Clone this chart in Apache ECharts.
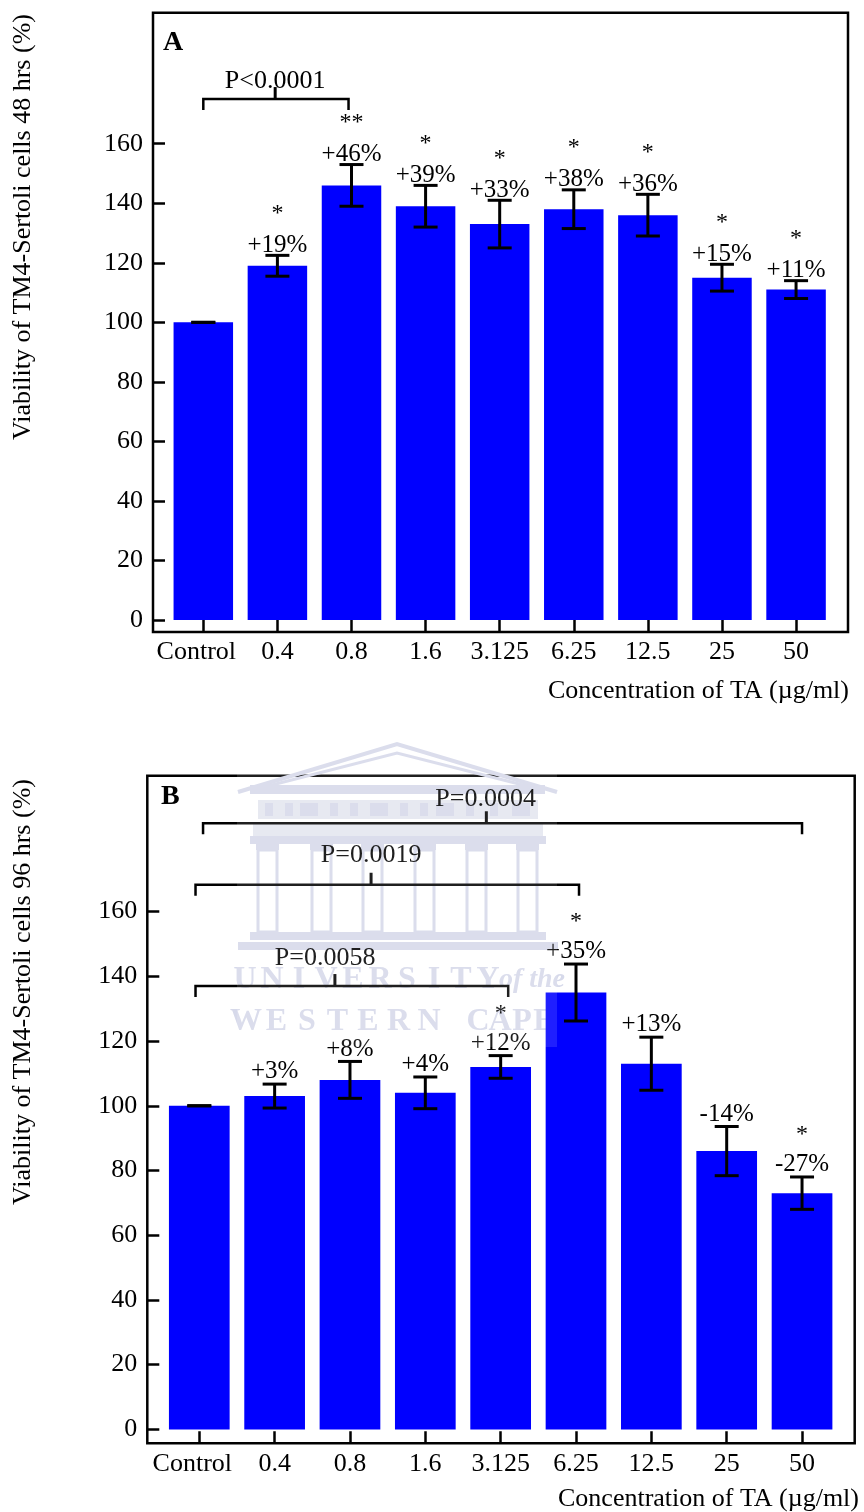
<!DOCTYPE html>
<html>
<head>
<meta charset="utf-8">
<script src="https://cdn.jsdelivr.net/npm/echarts@6/dist/echarts.min.js"></script>
<style>
  html, body { margin: 0; padding: 0; background: #ffffff; }
  #chart { width: 864px; height: 1512px; }
</style>
</head>
<body>
<div id="chart"></div>
<script>
// Concentrations of TA (µg/ml) on the x axis
const categories = ['Control', '0.4', '0.8', '1.6', '3.125', '6.25', '12.5', '25', '50'];
const categoryTicks = [0, 1, 2, 3, 4, 5, 6, 7, 8];
const yTicks = [0, 20, 40, 60, 80, 100, 120, 140, 160];

// Panel A: viability after 48 h (% of control)
const viability48 = [100, 119, 146, 139, 133, 138, 136, 115, 111];
const error48 = [0, 3.5, 7, 7, 8, 6.5, 7, 4.5, 3];
const change48 = ['', '+19%', '+46%', '+39%', '+33%', '+38%', '+36%', '+15%', '+11%'];
const stars48 = ['', '*', '**', '*', '*', '*', '*', '*', '*'];
// [from, to, level, tick x, text x, text level, label]
const brackets48 = [
  [0, 1.96, 175, 0.97, 0.97, 181, 'P<0.0001']
];

// Panel B: viability after 96 h (% of control)
const viability96 = [100, 103, 108, 104, 112, 135, 113, 86, 73];
const error96 = [0, 3.7, 5.7, 4.9, 3.5, 8.8, 8.2, 7.6, 5];
const change96 = ['', '+3%', '+8%', '+4%', '+12%', '+35%', '+13%', '-14%', '-27%'];
const stars96 = ['', '', '', '', '*', '*', '', '', '*'];
const brackets96 = [
  [0.05, 8.0, 187.3, 3.81, 3.80, 194.8, 'P=0.0004'],
  [-0.05, 5.04, 168.3, 2.28, 2.28, 177.4, 'P=0.0019'],
  [-0.05, 4.10, 137.0, 1.80, 1.67, 145.6, 'P=0.0058']
];

const FONT = '"Liberation Serif", "Times New Roman", Times, serif';
const BLUE = '#0000ff';

function textStyle(text, size, extra) {
  return Object.assign({
    text: text,
    fontSize: size,
    fontFamily: FONT,
    fill: '#000',
    align: 'center',
    verticalAlign: 'middle',
    textAlign: 'center',
    textVerticalAlign: 'middle'
  }, extra || {});
}

// Error bars with the change label and significance stars above each bar
function errorRenderer(labels, stars, labelGap, starGap) {
  return function (params, api) {
    const i = api.value(0), v = api.value(1), e = api.value(2);
    const hi = api.coord([i, v + e]);
    const lo = api.coord([i, v - e]);
    const x = hi[0], half = 12;
    const s = { stroke: '#000', lineWidth: 3 };
    const children = [
      { type: 'line', shape: { x1: x, y1: hi[1], x2: x, y2: lo[1] }, style: s },
      { type: 'line', shape: { x1: x - half, y1: hi[1], x2: x + half, y2: hi[1] }, style: s },
      { type: 'line', shape: { x1: x - half, y1: lo[1], x2: x + half, y2: lo[1] }, style: s }
    ];
    const k = params.dataIndex;
    if (labels[k]) {
      children.push({ type: 'text', x: x, y: hi[1] - labelGap, style: textStyle(labels[k], 25) });
    }
    if (stars[k]) {
      children.push({ type: 'text', x: x, y: hi[1] - starGap, style: textStyle(stars[k], 24) });
    }
    return { type: 'group', children: children };
  };
}

// Comparison brackets with their P values
function bracketRenderer(brackets) {
  return function (params, api) {
    const b = brackets[params.dataIndex];
    const p1 = api.coord([b[0], b[2]]);
    const p2 = api.coord([b[1], b[2]]);
    const pt = api.coord([b[3], b[2]]);
    const ptxt = api.coord([b[4], b[5]]);
    const s = { stroke: '#000', lineWidth: 2.5, fill: null };
    return {
      type: 'group',
      children: [
        { type: 'polyline', shape: { points: [[p1[0], p1[1] + 11], [p1[0], p1[1]], [p2[0], p2[1]], [p2[0], p2[1] + 11]] }, style: s },
        { type: 'line', shape: { x1: pt[0], y1: pt[1], x2: pt[0], y2: pt[1] - 12 }, style: { stroke: '#000', lineWidth: 3 } },
        { type: 'text', x: ptxt[0], y: ptxt[1], style: textStyle(b[6], 26) }
      ]
    };
  };
}

function makePanel(idx, box, xRange, yRange, barWidth, values, errors, labels, stars, brackets, labelGap) {
  const grid = {
    left: box.left, top: box.top, width: box.width, height: box.height,
    show: true, borderColor: '#000', borderWidth: 2.5, backgroundColor: 'transparent',
    containLabel: false, outerBoundsMode: 'none'
  };
  const xAxis = {
    type: 'value', gridIndex: idx, min: xRange[0], max: xRange[1], position: 'bottom',
    axisLine: { show: false, onZero: false }, splitLine: { show: false },
    axisTick: { show: true, inside: true, length: 12, customValues: categoryTicks, lineStyle: { color: '#000', width: 2.5 } },
    axisLabel: {
      customValues: categoryTicks, margin: 7.5, color: '#000', fontFamily: FONT, fontSize: 26,
      formatter: function (v) {
        const k = Math.round(v);
        return k === 0 ? '{first|' + categories[k] + '}' : categories[k];
      },
      rich: {
        first: { fontFamily: FONT, fontSize: 26, color: '#000', padding: [0, 14, 0, 0] }
      }
    }
  };
  const yAxis = {
    type: 'value', gridIndex: idx, min: yRange[0], max: yRange[1], position: 'left',
    axisLine: { show: false, onZero: false }, splitLine: { show: false },
    axisTick: { show: true, inside: true, length: 12, customValues: yTicks, lineStyle: { color: '#000', width: 2.5 } },
    axisLabel: { customValues: yTicks, margin: 10, color: '#000', fontFamily: FONT, fontSize: 26 }
  };
  const series = [
    {
      type: 'bar', xAxisIndex: idx, yAxisIndex: idx, barWidth: barWidth, z: 2,
      itemStyle: { color: BLUE },
      data: values.map(function (v, i) { return [i, v]; })
    },
    {
      type: 'custom', xAxisIndex: idx, yAxisIndex: idx, z: 3, clip: false,
      renderItem: errorRenderer(labels, stars, labelGap, 42),
      data: values.map(function (v, i) { return [i, v, errors[i]]; })
    },
    {
      type: 'custom', xAxisIndex: idx, yAxisIndex: idx, z: 3, clip: false,
      renderItem: bracketRenderer(brackets),
      data: brackets.map(function (b) { return [b[0], b[2]]; })
    }
  ];
  return { grid: grid, xAxis: xAxis, yAxis: yAxis, series: series };
}

const panelA = makePanel(0, { left: 153, top: 12.7, width: 695, height: 619.3 }, [-0.679, 8.701], [-4, 204],
  59.5, viability48, error48, change48, stars48, brackets48, 10);
const panelB = makePanel(1, { left: 147.3, top: 775.7, width: 707.4, height: 667.6 }, [-0.69, 8.699], [-4.3, 202],
  60.7, viability96, error96, change96, stars96, brackets96, 12.5);

// Repository watermark (building and lettering) behind the lower panel
const WM = '#d6d9ea';
const WM_FILL = '#e4e6f0';
const watermark = [];
watermark.push({ type: 'polyline', z: 0, shape: { points: [[238, 792], [397, 744], [557, 792]] }, style: { stroke: WM, lineWidth: 4, fill: null } });
watermark.push({ type: 'polyline', z: 0, shape: { points: [[268, 786], [397, 753], [527, 786]] }, style: { stroke: WM, lineWidth: 3, fill: null } });
watermark.push({ type: 'rect', z: 0, shape: { x: 250, y: 785, width: 295, height: 9 }, style: { fill: WM } });
watermark.push({ type: 'rect', z: 0, shape: { x: 258, y: 800, width: 280, height: 19 }, style: { fill: WM_FILL } });
[265, 285, 300, 330, 350, 370, 400, 420, 436, 466, 490, 512].forEach(function (x, k) {
  watermark.push({ type: 'rect', z: 0, shape: { x: x, y: 803, width: (k % 3 === 2) ? 18 : 8, height: 13 }, style: { fill: WM } });
});
watermark.push({ type: 'rect', z: 0, shape: { x: 253, y: 822, width: 290, height: 14 }, style: { fill: WM_FILL } });
watermark.push({ type: 'rect', z: 0, shape: { x: 250, y: 836, width: 296, height: 8 }, style: { fill: WM } });
[258, 312, 363, 415, 467, 518].forEach(function (x) {
  watermark.push({ type: 'rect', z: 0, shape: { x: x - 2, y: 844, width: 23, height: 6 }, style: { fill: WM } });
  watermark.push({ type: 'rect', z: 0, shape: { x: x, y: 850, width: 19, height: 82 }, style: { fill: null, stroke: WM, lineWidth: 3 } });
});
watermark.push({ type: 'rect', z: 0, shape: { x: 250, y: 932, width: 296, height: 8 }, style: { fill: WM } });
watermark.push({ type: 'rect', z: 0, shape: { x: 238, y: 942, width: 320, height: 8 }, style: { fill: WM } });
function spaced(text, x0, step, y, size) {
  text.split('').forEach(function (ch, k) {
    watermark.push({
      type: 'text', z: 0, x: x0 + k * step, y: y,
      style: textStyle(ch, size, { fill: WM, fontWeight: 'bold' })
    });
  });
}
spaced('UNIVERSITY', 245, 27, 980, 32);
watermark.push({ type: 'text', z: 0, x: 532, y: 980, style: textStyle('of the', 28, { fill: WM, fontStyle: 'italic', fontWeight: 'bold' }) });
spaced('WESTERN', 246, 30.5, 1022, 32);
spaced('CAPE', 478, 22, 1022, 32);

const option = {
  animation: false,
  backgroundColor: '#ffffff',
  grid: [panelA.grid, panelB.grid],
  xAxis: [panelA.xAxis, panelB.xAxis],
  yAxis: [panelA.yAxis, panelB.yAxis],
  series: panelA.series.concat(panelB.series),
  graphic: watermark.concat([
    // panel letters
    { type: 'text', x: 163, y: 43, style: textStyle('A', 28, { fontWeight: 'bold', align: 'left', textAlign: 'left' }) },
    { type: 'text', x: 161, y: 797, style: textStyle('B', 28, { fontWeight: 'bold', align: 'left', textAlign: 'left' }) },
    // axis titles
    { type: 'text', x: 23.5, y: 227, rotation: Math.PI / 2, style: textStyle('Viability of TM4-Sertoli cells 48 hrs (%)', 26) },
    { type: 'text', x: 23.5, y: 992, rotation: Math.PI / 2, style: textStyle('Viability of TM4-Sertoli cells 96 hrs (%)', 26) },
    { type: 'text', x: 849, y: 691, style: textStyle('Concentration of TA (µg/ml)', 26, { align: 'right', textAlign: 'right' }) },
    { type: 'text', x: 859, y: 1499, style: textStyle('Concentration of TA (µg/ml)', 26, { align: 'right', textAlign: 'right' }) },
    // light veil of the watermark over the chart
    { type: 'rect', z: 100, silent: true, shape: { x: 237, y: 740, width: 320, height: 307 }, style: { fill: 'rgba(255,255,255,0.12)' } }
  ])
};

const chart = echarts.init(document.getElementById('chart'), null, { renderer: 'canvas' });
chart.setOption(option);
</script>
</body>
</html>
